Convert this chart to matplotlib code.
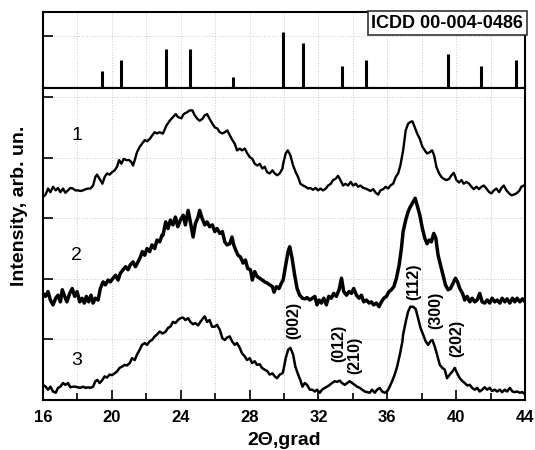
import matplotlib
matplotlib.use("Agg")
import matplotlib.pyplot as plt
from matplotlib.ticker import MultipleLocator

plt.rcParams['font.family'] = ['Liberation Sans', 'DejaVu Sans']

# ICDD reference lines
ref_pos = [19.43, 20.53, 23.15, 24.54, 27.04, 29.95, 31.11, 33.37, 34.77, 39.53, 41.45, 43.48]
ref_int = [33, 54, 75, 75, 22, 107, 86, 43, 54, 65, 43, 54]
ref_label = "ICDD 00-004-0486"

# Spectrum 1
x1 = [16.00, 16.15, 16.29, 16.43, 16.58, 16.74, 16.87, 17.01, 17.16, 17.30, 17.45, 17.59, 17.74,
      17.88, 18.03, 18.17, 18.32, 18.48, 18.61, 18.75, 18.91, 19.04, 19.14, 19.29, 19.45, 19.58,
      19.72, 19.87, 20.01, 20.16, 20.30, 20.42, 20.55, 20.69, 20.84, 21.00, 21.13, 21.23, 21.33,
      21.46, 21.62, 21.75, 21.91, 22.04, 22.20, 22.35, 22.49, 22.62, 22.78, 22.93,
      22.97, 23.17, 23.36, 23.55, 23.71, 23.84, 24.04, 24.17, 24.37, 24.52, 24.68, 24.81, 24.97,
      25.10, 25.26, 25.40, 25.53, 25.68, 25.84, 25.98, 26.13, 26.27, 26.42, 26.56, 26.71, 26.85,
      27.00, 27.14, 27.27, 27.43, 27.56, 27.72, 27.87, 28.01, 28.16, 28.30, 28.45, 28.59, 28.74,
      28.88, 29.02, 29.17, 29.33, 29.46, 29.60, 29.75, 29.91,
      29.95, 30.10, 30.22, 30.37, 30.53, 30.68, 30.82, 30.95, 31.11, 31.26, 31.40, 31.53, 31.69,
      31.84, 31.98, 32.12, 32.27, 32.43, 32.56, 32.72, 32.85, 32.99, 33.14, 33.28, 33.43, 33.57,
      33.72, 33.88, 34.01, 34.17, 34.30, 34.44, 34.61, 34.75, 34.89, 35.02, 35.18, 35.33, 35.47,
      35.60, 35.76, 35.91, 36.05, 36.18, 36.34, 36.49, 36.63, 36.76,
      36.92, 37.07, 37.21, 37.34, 37.46, 37.60, 37.73, 37.89, 38.04, 38.18, 38.31, 38.47, 38.60,
      38.72, 38.85, 39.01, 39.15, 39.28, 39.44, 39.59, 39.73, 39.86, 40.02, 40.17, 40.31, 40.44,
      40.60, 40.75, 40.89, 41.02, 41.18, 41.33, 41.47, 41.61, 41.76, 41.92, 42.05, 42.19, 42.34,
      42.50, 42.63, 42.77, 42.92, 43.08, 43.21, 43.35, 43.50, 43.66, 43.79, 43.93, 44.05]
y1 = [3.35, 3.39, 3.49, 3.43, 3.52, 3.46, 3.50, 3.43, 3.49, 3.42, 3.46, 3.50, 3.49,
      3.46, 3.46, 3.45, 3.46, 3.48, 3.49, 3.49, 3.54, 3.68, 3.72, 3.65, 3.57, 3.68,
      3.74, 3.72, 3.76, 3.79, 3.85, 3.96, 3.90, 3.98, 3.96, 3.96, 3.93, 3.87, 3.96,
      4.09, 4.18, 4.23, 4.29, 4.27, 4.31, 4.37, 4.42, 4.40, 4.42, 4.40,
      4.40, 4.53, 4.61, 4.67, 4.72, 4.67, 4.65, 4.72, 4.75, 4.78, 4.78, 4.70, 4.64,
      4.61, 4.64, 4.70, 4.72, 4.64, 4.56, 4.50, 4.48, 4.42, 4.40, 4.42, 4.45, 4.37,
      4.29, 4.23, 4.12, 4.15, 4.12, 4.15, 4.07, 4.01, 3.98, 3.90, 3.87, 3.90, 3.82,
      3.85, 3.76, 3.74, 3.79, 3.74, 3.71, 3.74, 3.82,
      3.90, 4.07, 4.12, 4.04, 3.87, 3.76, 3.68, 3.57, 3.54, 3.52, 3.49, 3.50, 3.47,
      3.50, 3.46, 3.49, 3.46, 3.49, 3.54, 3.57, 3.63, 3.65, 3.70, 3.63, 3.54, 3.57,
      3.54, 3.60, 3.54, 3.57, 3.52, 3.54, 3.50, 3.49, 3.47, 3.45, 3.48, 3.42, 3.39,
      3.46, 3.48, 3.52, 3.49, 3.54, 3.57, 3.68, 3.74, 3.87,
      4.12, 4.45, 4.56, 4.59, 4.60, 4.50, 4.40, 4.31, 4.18, 4.12, 4.07, 4.09, 4.12,
      4.04, 3.85, 3.74, 3.68, 3.65, 3.63, 3.65, 3.71, 3.75, 3.63, 3.59, 3.63, 3.57,
      3.60, 3.57, 3.52, 3.48, 3.52, 3.48, 3.52, 3.54, 3.49, 3.43, 3.41, 3.46, 3.49,
      3.43, 3.50, 3.54, 3.46, 3.41, 3.38, 3.39, 3.41, 3.45, 3.52, 3.54, 3.57]

# Spectrum 2
x2 = [16.00, 16.15, 16.29, 16.43, 16.58, 16.74, 16.87, 17.01, 17.12, 17.26, 17.39, 17.55, 17.70,
      17.84, 17.98, 18.13, 18.27, 18.40, 18.52, 18.65, 18.79, 18.91, 19.04, 19.20, 19.33, 19.49,
      19.62, 19.78, 19.91, 20.07, 20.22, 20.36, 20.49, 20.65, 20.80, 20.94, 21.07, 21.23, 21.37,
      21.52, 21.66, 21.77, 21.91, 22.04, 22.20, 22.33, 22.49, 22.62, 22.78, 22.91,
      22.97, 23.13, 23.26, 23.40, 23.55, 23.69, 23.83, 23.98, 24.14, 24.27, 24.43, 24.56, 24.72,
      24.85, 25.01, 25.10, 25.24, 25.40, 25.53, 25.68, 25.84, 25.98, 26.11, 26.27, 26.42, 26.56,
      26.69, 26.85, 26.98, 27.08, 27.20, 27.33, 27.47, 27.62, 27.76, 27.89, 28.05, 28.16, 28.30,
      28.43, 28.59, 28.74, 28.88, 29.02, 29.17, 29.33, 29.42, 29.56, 29.71, 29.85,
      29.95, 30.10, 30.24, 30.33, 30.47, 30.62, 30.76, 30.91, 31.07, 31.21, 31.34, 31.50, 31.65,
      31.79, 31.92, 32.04, 32.17, 32.31, 32.46, 32.60, 32.75, 32.89, 33.04, 33.20, 33.34, 33.47,
      33.63, 33.78, 33.92, 34.05, 34.21, 34.36, 34.50, 34.63, 34.79, 34.94, 35.08, 35.21, 35.37,
      35.52, 35.66, 35.80, 35.95, 36.10, 36.24, 36.38, 36.53, 36.69, 36.82,
      36.92, 37.07, 37.21, 37.34, 37.50, 37.62, 37.73, 37.89, 38.04, 38.18, 38.31, 38.43, 38.56,
      38.70, 38.82, 38.95, 39.09, 39.24, 39.38, 39.53, 39.67, 39.82, 39.96, 40.08, 40.21, 40.37,
      40.50, 40.64, 40.79, 40.93, 41.08, 41.22, 41.37, 41.51, 41.66, 41.80, 41.95, 42.09, 42.24,
      42.38, 42.54, 42.67, 42.83, 42.96, 43.12, 43.27, 43.41, 43.54, 43.70, 43.85, 44.01]
y2 = [1.76, 1.71, 1.79, 1.65, 1.57, 1.68, 1.73, 1.62, 1.82, 1.71, 1.62, 1.76, 1.84,
      1.71, 1.79, 1.62, 1.68, 1.60, 1.71, 1.62, 1.73, 1.60, 1.68, 1.65, 1.84, 1.95,
      1.90, 1.98, 1.95, 2.01, 2.06, 1.98, 2.09, 2.15, 2.20, 2.15, 2.23, 2.28, 2.20,
      2.28, 2.36, 2.45, 2.39, 2.50, 2.45, 2.56, 2.50, 2.64, 2.61, 2.72,
      2.72, 2.94, 2.83, 2.97, 2.89, 3.02, 2.86, 2.97, 3.05, 2.89, 3.13, 2.94, 2.69,
      2.91, 3.02, 3.13, 3.00, 2.89, 2.94, 2.86, 2.89, 2.78, 2.83, 2.75, 2.78, 2.61,
      2.56, 2.58, 2.69, 2.56, 2.47, 2.39, 2.36, 2.26, 2.31, 2.17, 2.15, 1.98, 2.12,
      2.04, 2.01, 1.98, 1.95, 1.93, 1.90, 1.87, 1.78, 1.87, 1.84, 1.93,
      1.98, 2.23, 2.45, 2.53, 2.34, 2.06, 1.84, 1.73, 1.68, 1.67, 1.69, 1.65, 1.68,
      1.71, 1.57, 1.65, 1.60, 1.68, 1.57, 1.71, 1.68, 1.76, 1.71, 1.82, 2.01, 1.79,
      1.73, 1.79, 1.76, 1.84, 1.73, 1.68, 1.73, 1.62, 1.65, 1.60, 1.62, 1.57, 1.60,
      1.54, 1.62, 1.68, 1.71, 1.79, 1.82, 1.87, 2.01, 2.23, 2.50,
      2.78, 2.97, 3.11, 3.19, 3.27, 3.33, 3.22, 3.05, 2.83, 2.67, 2.58, 2.64, 2.61,
      2.75, 2.67, 2.39, 2.23, 2.06, 1.90, 1.82, 1.84, 1.93, 2.01, 1.95, 1.84, 1.76,
      1.65, 1.71, 1.62, 1.68, 1.62, 1.65, 1.76, 1.62, 1.60, 1.65, 1.60, 1.68, 1.62,
      1.65, 1.60, 1.68, 1.62, 1.67, 1.60, 1.68, 1.62, 1.68, 1.62, 1.67, 1.62]

# Spectrum 3
x3 = [16.00, 16.15, 16.29, 16.43, 16.58, 16.74, 16.87, 17.01, 17.16, 17.30, 17.45, 17.59, 17.74,
      17.88, 18.03, 18.17, 18.32, 18.48, 18.61, 18.75, 18.91, 19.04, 19.16, 19.29, 19.45, 19.58,
      19.72, 19.87, 20.01, 20.16, 20.30, 20.45, 20.59, 20.75, 20.88, 21.04, 21.17, 21.33, 21.46,
      21.62, 21.75, 21.91, 22.04, 22.20, 22.33, 22.49, 22.62, 22.78, 22.93,
      22.97, 23.13, 23.26, 23.40, 23.55, 23.69, 23.84, 23.98, 24.14, 24.27, 24.43, 24.56, 24.72,
      24.85, 25.01, 25.14, 25.30, 25.40, 25.53, 25.68, 25.82, 25.98, 26.11, 26.27, 26.42, 26.56,
      26.69, 26.85, 26.98, 27.14, 27.27, 27.43, 27.56, 27.72, 27.85, 28.01, 28.14, 28.30, 28.43,
      28.59, 28.72, 28.88, 29.02, 29.17, 29.33, 29.46, 29.60, 29.75, 29.91,
      29.95, 30.10, 30.24, 30.37, 30.53, 30.66, 30.82, 30.95, 31.07, 31.21, 31.34, 31.50, 31.65,
      31.79, 31.92, 32.08, 32.21, 32.37, 32.50, 32.66, 32.79, 32.95, 33.08, 33.24, 33.37, 33.53,
      33.67, 33.82, 33.96, 34.11, 34.25, 34.40, 34.54, 34.69, 34.83, 34.98, 35.12, 35.27, 35.41,
      35.56, 35.70, 35.85, 35.99, 36.14, 36.28, 36.43, 36.57, 36.73, 36.88,
      36.92, 37.07, 37.21, 37.34, 37.50, 37.65, 37.79, 37.93, 38.08, 38.23, 38.37, 38.51, 38.62,
      38.76, 38.89, 39.05, 39.20, 39.34, 39.47, 39.63, 39.78, 39.92, 40.06, 40.21, 40.37, 40.50,
      40.64, 40.79, 40.93, 41.08, 41.22, 41.37, 41.51, 41.66, 41.80, 41.95, 42.09, 42.24, 42.38,
      42.54, 42.67, 42.83, 42.96, 43.12, 43.27, 43.41, 43.54, 43.70, 43.85, 44.01]
y3 = [0.25, 0.22, 0.17, 0.22, 0.14, 0.12, 0.20, 0.22, 0.28, 0.25, 0.28, 0.21, 0.22,
      0.22, 0.21, 0.20, 0.22, 0.20, 0.21, 0.20, 0.22, 0.31, 0.33, 0.28, 0.33, 0.39,
      0.37, 0.42, 0.41, 0.44, 0.47, 0.53, 0.55, 0.58, 0.57, 0.61, 0.69, 0.66, 0.75,
      0.83, 0.91, 0.94, 0.91, 0.97, 0.99, 1.05, 1.08, 1.13, 1.10,
      1.10, 1.13, 1.19, 1.21, 1.29, 1.27, 1.32, 1.35, 1.36, 1.32, 1.35, 1.29, 1.25,
      1.27, 1.23, 1.29, 1.35, 1.38, 1.29, 1.32, 1.21, 1.21, 1.24, 1.16, 1.02, 0.99,
      1.03, 1.05, 0.97, 0.91, 0.94, 0.86, 0.77, 0.72, 0.66, 0.69, 0.61, 0.64, 0.58,
      0.59, 0.53, 0.50, 0.48, 0.42, 0.44, 0.39, 0.36, 0.42, 0.44,
      0.47, 0.69, 0.83, 0.86, 0.75, 0.55, 0.42, 0.33, 0.22, 0.28, 0.25, 0.17, 0.17,
      0.14, 0.17, 0.12, 0.17, 0.20, 0.22, 0.25, 0.28, 0.31, 0.30, 0.32, 0.28, 0.25,
      0.28, 0.31, 0.28, 0.25, 0.22, 0.20, 0.17, 0.14, 0.13, 0.12, 0.17, 0.12, 0.17,
      0.20, 0.14, 0.12, 0.14, 0.22, 0.31, 0.42, 0.55, 0.75, 0.97,
      1.08, 1.29, 1.46, 1.54, 1.54, 1.50, 1.35, 1.19, 1.08, 0.97, 0.91, 0.97, 0.99,
      0.88, 0.75, 0.58, 0.53, 0.50, 0.36, 0.42, 0.47, 0.53, 0.44, 0.36, 0.31, 0.28,
      0.24, 0.25, 0.20, 0.17, 0.20, 0.14, 0.17, 0.21, 0.17, 0.20, 0.15, 0.17, 0.14,
      0.17, 0.13, 0.17, 0.14, 0.20, 0.14, 0.13, 0.14, 0.12, 0.13, 0.09]

curve_labels = ["1", "2", "3"]
curve_label_x = [17.96, 17.96, 17.96]
curve_label_y = [4.36, 2.39, 0.66]

peak_labels = ["(002)", "(012)", "(210)", "(112)", "(300)", "(202)"]
peak_x = [30.58, 33.16, 34.13, 37.52, 38.84, 40.04]
peak_y = [1.32, 0.93, 0.74, 1.95, 1.48, 1.02]

xticks = [16, 20, 24, 28, 32, 36, 40, 44]

W, H = 535, 450
fig = plt.figure(figsize=(W / 100, H / 100), dpi=100)
L, R = 43 / W, 525 / W
ax_top = fig.add_axes([L, 1 - 88 / H, R - L, (88 - 12) / H])
ax = fig.add_axes([L, 1 - 400 / H, R - L, (400 - 88) / H])

grid_kw = dict(color='#c4c4c4', linestyle=(0, (1, 1.8)), linewidth=0.7)

# top panel
ax_top.vlines(ref_pos, 0, ref_int, colors='black', linewidth=2.2)
ax_top.set_xlim(16, 44)
ax_top.set_ylim(0, 146)
ax_top.set_yticks([100])
ax_top.set_yticklabels([])
ax_top.xaxis.set_major_locator(MultipleLocator(2))
ax_top.tick_params(axis='x', length=0, labelbottom=False)
ax_top.tick_params(axis='y', direction='in', length=7, width=1.2)
ax_top.grid(True, **grid_kw)
ax_top.set_axisbelow(True)
ax_top.text(0.996, 0.965, ref_label, transform=ax_top.transAxes, ha='right', va='top',
            fontsize=13, fontweight='bold',
            bbox=dict(boxstyle='square,pad=0.2', facecolor='white', edgecolor='#333333', linewidth=1.2))

# main panel
ax.plot(x1, y1, color='black', linewidth=1.7)
ax.plot(x2, y2, color='black', linewidth=2.5)
ax.plot(x3, y3, color='black', linewidth=1.8)
ax.set_xlim(16, 44)
ax.set_ylim(0, 5.15)
ax.set_yticks([1, 2, 3, 4, 5])
ax.set_yticklabels([])
ax.set_xticks(xticks)
ax.xaxis.set_minor_locator(MultipleLocator(2))
ax.tick_params(axis='both', which='both', direction='in', width=1.2)
ax.tick_params(axis='both', which='major', length=7)
ax.tick_params(axis='x', which='minor', length=5)
ax.tick_params(axis='x', labelsize=12, pad=7)
for lab in ax.get_xticklabels():
    lab.set_fontweight('bold')
ax.grid(True, which='both', axis='x', **grid_kw)
ax.grid(True, which='major', axis='y', **grid_kw)
ax.set_axisbelow(True)

for t, xx, yy in zip(curve_labels, curve_label_x, curve_label_y):
    ax.text(xx, yy, t, fontsize=14, ha='center', va='center')
for t, xx, yy in zip(peak_labels, peak_x, peak_y):
    ax.text(xx, yy, t, fontsize=11.5, fontweight='bold', rotation=90, ha='center', va='center')

for a in (ax, ax_top):
    for s in a.spines.values():
        s.set_linewidth(1.5)

ax.set_xlabel("2\u0398,grad", fontsize=14, fontweight='bold', labelpad=5)
fig.text(20 / W, 1 - 206 / H, "Intensity, arb. un.", rotation=90, ha='center', va='center',
         fontsize=14, fontweight='bold')

fig.savefig("out.png", dpi=100)
